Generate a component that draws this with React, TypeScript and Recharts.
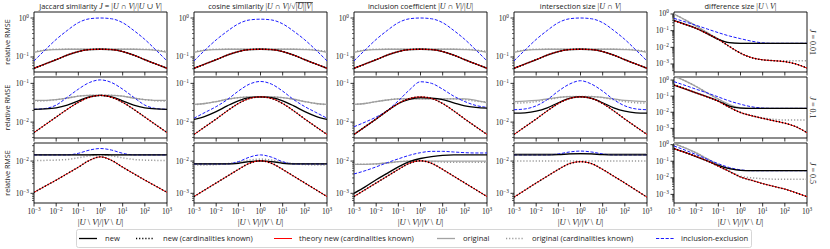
import React from "react";
import { LineChart, Line, XAxis, YAxis, ReferenceArea } from "recharts";

// x positions (|U\V| / |V\U|), half-decade steps
const ratios = [0.001, 0.00316, 0.01, 0.0316, 0.1, 0.316, 1, 3.16, 10, 31.6, 100, 316, 1000];
const xTicks = [0.001, 0.01, 0.1, 1, 10, 100, 1000];

const titles = ["jaccard", "cosine", "inclusion", "intersection", "difference"];
const rowJ = ["0.01", "0.1", "0.5"];

// ---- J = 0.01 ----
const jacA_new = [0.0513, 0.0661, 0.0851, 0.112, 0.138, 0.155, 0.158, 0.155, 0.138, 0.112, 0.0851, 0.0661, 0.0513];
const jacA_theory = [0.0513, 0.0661, 0.0851, 0.112, 0.138, 0.155, 0.158, 0.155, 0.138, 0.112, 0.0851, 0.0661, 0.0513];
const jacA_orig = [0.132, 0.148, 0.155, 0.158, 0.158, 0.158, 0.158, 0.158, 0.158, 0.158, 0.155, 0.148, 0.132];
const jacA_origKnown = [0.138, 0.151, 0.158, 0.158, 0.158, 0.158, 0.158, 0.158, 0.158, 0.158, 0.158, 0.151, 0.138];
const jacA_incExc = [0.0794, 0.151, 0.282, 0.479, 0.759, 0.955, 1.0, 0.955, 0.759, 0.479, 0.282, 0.151, 0.0794];

const cosA_new = [0.0513, 0.0661, 0.0851, 0.112, 0.138, 0.155, 0.158, 0.155, 0.138, 0.112, 0.0851, 0.0661, 0.0513];
const cosA_theory = [0.0513, 0.0661, 0.0851, 0.112, 0.138, 0.155, 0.158, 0.155, 0.138, 0.112, 0.0851, 0.0661, 0.0513];
const cosA_orig = [0.132, 0.148, 0.155, 0.158, 0.158, 0.158, 0.158, 0.158, 0.158, 0.158, 0.155, 0.148, 0.132];
const cosA_origKnown = [0.138, 0.151, 0.158, 0.158, 0.158, 0.158, 0.158, 0.158, 0.158, 0.158, 0.158, 0.151, 0.138];
const cosA_incExc = [0.0794, 0.151, 0.275, 0.457, 0.708, 0.891, 0.933, 0.891, 0.708, 0.457, 0.275, 0.151, 0.0794];

const incA_new = [0.0513, 0.0661, 0.0851, 0.112, 0.138, 0.155, 0.158, 0.155, 0.138, 0.112, 0.0851, 0.0661, 0.0513];
const incA_theory = [0.0513, 0.0661, 0.0851, 0.112, 0.138, 0.155, 0.158, 0.155, 0.138, 0.112, 0.0851, 0.0661, 0.0513];
const incA_orig = [0.132, 0.148, 0.155, 0.158, 0.158, 0.158, 0.158, 0.158, 0.158, 0.158, 0.155, 0.148, 0.132];
const incA_origKnown = [0.138, 0.151, 0.158, 0.158, 0.158, 0.158, 0.158, 0.158, 0.158, 0.158, 0.158, 0.151, 0.138];
const incA_incExc = [0.0794, 0.151, 0.282, 0.479, 0.759, 0.955, 1.0, 0.955, 0.759, 0.479, 0.282, 0.151, 0.0794];

const intA_new = [0.0513, 0.0661, 0.0851, 0.112, 0.138, 0.155, 0.158, 0.155, 0.138, 0.112, 0.0851, 0.0661, 0.0513];
const intA_theory = [0.0513, 0.0661, 0.0851, 0.112, 0.138, 0.155, 0.158, 0.155, 0.138, 0.112, 0.0851, 0.0661, 0.0513];
const intA_orig = [0.132, 0.148, 0.155, 0.158, 0.158, 0.158, 0.158, 0.158, 0.158, 0.158, 0.155, 0.148, 0.132];
const intA_origKnown = [0.138, 0.151, 0.158, 0.158, 0.158, 0.158, 0.158, 0.158, 0.158, 0.158, 0.158, 0.151, 0.138];
const intA_incExc = [0.0794, 0.151, 0.282, 0.479, 0.759, 0.955, 1.0, 0.955, 0.759, 0.479, 0.282, 0.151, 0.0794];

const difA_new = [0.398, 0.24, 0.138, 0.0661, 0.0302, 0.0191, 0.0174, 0.0174, 0.0174, 0.0174, 0.0174, 0.0174, 0.0174];
const difA_theory = [0.398, 0.24, 0.138, 0.0661, 0.0302, 0.0112, 0.00447, 0.0024, 0.00178, 0.00158, 0.00138, 0.001, 0.000562];
const difA_orig = [1.0, 0.447, 0.191, 0.0759, 0.0316, 0.0191, 0.0174, 0.0174, 0.0174, 0.0174, 0.0174, 0.0174, 0.0174];
const difA_origKnown = [1.0, 0.447, 0.191, 0.0759, 0.0302, 0.0112, 0.00447, 0.0024, 0.00178, 0.00158, 0.00155, 0.00155, 0.00155];
const difA_incExc = [0.55, 0.339, 0.209, 0.126, 0.0759, 0.0479, 0.0331, 0.0234, 0.0186, 0.0174, 0.0174, 0.0174, 0.0174];

// ---- J = 0.1 ----
const jacB_new = [0.0214, 0.0219, 0.0234, 0.0275, 0.0355, 0.0447, 0.049, 0.0447, 0.0355, 0.0275, 0.0234, 0.0219, 0.0214];
const jacB_theory = [0.00537, 0.00851, 0.0135, 0.0214, 0.0324, 0.0437, 0.049, 0.0437, 0.0324, 0.0214, 0.0135, 0.00851, 0.00537];
const jacB_orig = [0.0363, 0.0363, 0.038, 0.0417, 0.0468, 0.049, 0.049, 0.049, 0.0468, 0.0417, 0.038, 0.0363, 0.0363];
const jacB_origKnown = [0.0347, 0.0355, 0.038, 0.0417, 0.0468, 0.049, 0.049, 0.049, 0.0468, 0.0417, 0.038, 0.0355, 0.0347];
const jacB_incExc = [0.0214, 0.0224, 0.0275, 0.0437, 0.0708, 0.105, 0.123, 0.105, 0.0708, 0.0437, 0.0275, 0.0224, 0.0214];

const cosB_new = [0.0117, 0.0141, 0.0186, 0.0263, 0.0355, 0.0427, 0.0447, 0.0427, 0.0355, 0.0263, 0.0186, 0.0141, 0.0117];
const cosB_theory = [0.00479, 0.00759, 0.012, 0.0195, 0.0302, 0.0407, 0.0447, 0.0407, 0.0302, 0.0195, 0.012, 0.00759, 0.00479];
const cosB_orig = [0.0288, 0.0302, 0.0339, 0.0389, 0.0427, 0.0447, 0.0447, 0.0447, 0.0427, 0.0389, 0.0339, 0.0302, 0.0288];
const cosB_origKnown = [0.0282, 0.0302, 0.0339, 0.0389, 0.0427, 0.0447, 0.0447, 0.0447, 0.0427, 0.0389, 0.0339, 0.0302, 0.0282];
const cosB_incExc = [0.0126, 0.0178, 0.0251, 0.038, 0.0631, 0.0955, 0.112, 0.0955, 0.0631, 0.038, 0.0251, 0.0178, 0.0126];

const incB_new = [0.00479, 0.00759, 0.012, 0.0195, 0.0302, 0.0389, 0.0427, 0.0417, 0.038, 0.0316, 0.0263, 0.024, 0.0229];
const incB_theory = [0.00479, 0.00759, 0.012, 0.0195, 0.0302, 0.0407, 0.0447, 0.0407, 0.0302, 0.0195, 0.012, 0.00759, 0.00479];
const incB_orig = [0.0288, 0.0302, 0.0339, 0.0372, 0.0398, 0.0398, 0.0398, 0.0398, 0.0398, 0.0398, 0.0398, 0.0363, 0.0316];
const incB_origKnown = [0.0288, 0.0302, 0.0339, 0.0372, 0.0398, 0.0398, 0.0398, 0.0398, 0.0398, 0.0398, 0.038, 0.0347, 0.0331];
const incB_incExc = [0.00759, 0.01, 0.0135, 0.02, 0.0355, 0.0676, 0.11, 0.1, 0.0708, 0.0468, 0.0339, 0.0269, 0.024];

const intB_new = [0.017, 0.0174, 0.0191, 0.0234, 0.0316, 0.0407, 0.0457, 0.0407, 0.0316, 0.0234, 0.0191, 0.0174, 0.017];
const intB_theory = [0.00479, 0.00759, 0.012, 0.0195, 0.0302, 0.0407, 0.0447, 0.0407, 0.0302, 0.0195, 0.012, 0.00759, 0.00479];
const intB_orig = [0.0339, 0.0347, 0.0363, 0.0398, 0.0437, 0.0457, 0.0457, 0.0457, 0.0437, 0.0398, 0.0363, 0.0347, 0.0339];
const intB_origKnown = [0.0309, 0.0316, 0.0339, 0.038, 0.0427, 0.0457, 0.0457, 0.0457, 0.0427, 0.038, 0.0339, 0.0316, 0.0309];
const intB_incExc = [0.0209, 0.0219, 0.0263, 0.038, 0.0631, 0.0955, 0.117, 0.0955, 0.0631, 0.038, 0.0263, 0.0219, 0.0209];

const difB_new = [0.49, 0.282, 0.158, 0.0912, 0.0501, 0.024, 0.0182, 0.0174, 0.0174, 0.0174, 0.0174, 0.0174, 0.0174];
const difB_theory = [0.49, 0.282, 0.158, 0.0912, 0.0479, 0.02, 0.00955, 0.00603, 0.00417, 0.00295, 0.00209, 0.00126, 0.000537];
const difB_orig = [1.78, 0.891, 0.398, 0.158, 0.0661, 0.0302, 0.0191, 0.0174, 0.0174, 0.0174, 0.0174, 0.0174, 0.0174];
const difB_origKnown = [1.78, 0.891, 0.398, 0.158, 0.0631, 0.0224, 0.01, 0.00631, 0.00447, 0.00363, 0.00331, 0.00331, 0.00331];
const difB_incExc = [0.794, 0.468, 0.269, 0.158, 0.0891, 0.0501, 0.0316, 0.0219, 0.0182, 0.0174, 0.0174, 0.0174, 0.0174];

// ---- J = 0.5 ----
const jacC_new = [0.0155, 0.0155, 0.0155, 0.0155, 0.0155, 0.0156, 0.0158, 0.0156, 0.0155, 0.0155, 0.0155, 0.0155, 0.0155];
const jacC_theory = [0.00107, 0.00166, 0.00257, 0.00407, 0.00646, 0.0105, 0.0135, 0.0105, 0.00646, 0.00407, 0.00257, 0.00166, 0.00107];
const jacC_orig = [0.0155, 0.0155, 0.0155, 0.0155, 0.0155, 0.0156, 0.0158, 0.0156, 0.0155, 0.0155, 0.0155, 0.0155, 0.0155];
const jacC_origKnown = [0.0105, 0.0105, 0.0107, 0.0112, 0.0126, 0.0145, 0.0155, 0.0145, 0.0126, 0.0112, 0.0107, 0.0105, 0.0105];
const jacC_incExc = [0.0155, 0.0155, 0.0155, 0.0155, 0.0174, 0.0219, 0.0245, 0.0219, 0.0174, 0.0155, 0.0155, 0.0155, 0.0155];

const cosC_new = [0.00813, 0.00813, 0.00813, 0.00813, 0.00851, 0.00955, 0.0102, 0.00955, 0.00851, 0.00813, 0.00813, 0.00813, 0.00813];
const cosC_theory = [0.000794, 0.00129, 0.00209, 0.00339, 0.0055, 0.00851, 0.0102, 0.00851, 0.0055, 0.00339, 0.00209, 0.00129, 0.000794];
const cosC_orig = [0.00813, 0.00813, 0.00813, 0.00813, 0.00891, 0.00977, 0.01, 0.00977, 0.00891, 0.00813, 0.00813, 0.00813, 0.00813];
const cosC_origKnown = [0.00759, 0.00759, 0.00776, 0.00832, 0.00933, 0.0107, 0.0115, 0.0107, 0.00933, 0.00832, 0.00776, 0.00759, 0.00759];
const cosC_incExc = [0.00813, 0.00813, 0.00813, 0.00813, 0.00955, 0.0132, 0.0155, 0.0132, 0.00955, 0.00813, 0.00813, 0.00813, 0.00813];

const incC_new = [0.001, 0.00158, 0.00263, 0.00417, 0.00661, 0.00955, 0.012, 0.0138, 0.0151, 0.0155, 0.0155, 0.0155, 0.0155];
const incC_theory = [0.000794, 0.00129, 0.00209, 0.00339, 0.0055, 0.00851, 0.0102, 0.00851, 0.0055, 0.00339, 0.00209, 0.00129, 0.000794];
const incC_orig = [0.00794, 0.00794, 0.00813, 0.00871, 0.00955, 0.01, 0.01, 0.01, 0.01, 0.01, 0.01, 0.01, 0.01];
const incC_origKnown = [0.00794, 0.00794, 0.00813, 0.00871, 0.00955, 0.01, 0.01, 0.00977, 0.00933, 0.00912, 0.00912, 0.00912, 0.00912];
const incC_incExc = [0.00398, 0.00501, 0.00661, 0.00891, 0.0117, 0.0151, 0.0182, 0.02, 0.02, 0.0191, 0.0182, 0.0178, 0.0178];

const intC_new = [0.0155, 0.0155, 0.0155, 0.0155, 0.0158, 0.0166, 0.017, 0.0166, 0.0158, 0.0155, 0.0155, 0.0155, 0.0155];
const intC_theory = [0.000759, 0.00126, 0.00209, 0.00339, 0.0055, 0.00832, 0.00955, 0.00832, 0.0055, 0.00339, 0.00209, 0.00126, 0.000759];
const intC_orig = [0.0166, 0.0166, 0.0166, 0.0166, 0.0166, 0.0166, 0.0166, 0.0166, 0.0166, 0.0166, 0.0166, 0.0166, 0.0166];
const intC_origKnown = [0.01, 0.01, 0.01, 0.01, 0.01, 0.01, 0.01, 0.01, 0.01, 0.01, 0.01, 0.01, 0.01];
const intC_incExc = [0.0155, 0.0155, 0.0155, 0.0155, 0.0166, 0.0191, 0.0204, 0.0191, 0.0166, 0.0155, 0.0155, 0.0155, 0.0155];

const difC_new = [0.575, 0.339, 0.191, 0.105, 0.0562, 0.0355, 0.0282, 0.0269, 0.0269, 0.0269, 0.0269, 0.0269, 0.0269];
const difC_theory = [0.575, 0.339, 0.191, 0.105, 0.0501, 0.024, 0.0112, 0.00708, 0.00447, 0.00302, 0.00209, 0.00126, 0.000724];
const difC_orig = [1.15, 0.631, 0.316, 0.141, 0.0631, 0.0355, 0.0282, 0.0269, 0.0269, 0.0269, 0.0269, 0.0269, 0.0269];
const difC_origKnown = [1.15, 0.631, 0.316, 0.141, 0.0562, 0.0251, 0.0126, 0.01, 0.00891, 0.00832, 0.00832, 0.00832, 0.00832];
const difC_incExc = [0.832, 0.468, 0.251, 0.132, 0.0708, 0.0417, 0.0302, 0.0269, 0.0269, 0.0269, 0.0269, 0.0269, 0.0269];

// y axis ranges per row (similarity panels / difference panel)
const yRanges = [
  { sim: [0.0412, 1.426], dif: [0.000331, 1.318] },
  { sim: [0.00389, 0.146], dif: [0.000251, 1.549] },
  { sim: [0.000501, 0.0363], dif: [0.000302, 1.259] },
];
const yMajors = [
  { sim: [0.1, 1], dif: [0.001, 0.01, 0.1, 1] },
  { sim: [0.01, 0.1], dif: [0.001, 0.01, 0.1, 1] },
  { sim: [0.001, 0.01], dif: [0.001, 0.01, 0.1, 1] },
];

const grid = [
  [
    [jacA_new, jacA_theory, jacA_orig, jacA_origKnown, jacA_incExc],
    [cosA_new, cosA_theory, cosA_orig, cosA_origKnown, cosA_incExc],
    [incA_new, incA_theory, incA_orig, incA_origKnown, incA_incExc],
    [intA_new, intA_theory, intA_orig, intA_origKnown, intA_incExc],
    [difA_new, difA_theory, difA_orig, difA_origKnown, difA_incExc],
  ],
  [
    [jacB_new, jacB_theory, jacB_orig, jacB_origKnown, jacB_incExc],
    [cosB_new, cosB_theory, cosB_orig, cosB_origKnown, cosB_incExc],
    [incB_new, incB_theory, incB_orig, incB_origKnown, incB_incExc],
    [intB_new, intB_theory, intB_orig, intB_origKnown, intB_incExc],
    [difB_new, difB_theory, difB_orig, difB_origKnown, difB_incExc],
  ],
  [
    [jacC_new, jacC_theory, jacC_orig, jacC_origKnown, jacC_incExc],
    [cosC_new, cosC_theory, cosC_orig, cosC_origKnown, cosC_incExc],
    [incC_new, incC_theory, incC_orig, incC_origKnown, incC_incExc],
    [intC_new, intC_theory, intC_orig, intC_origKnown, intC_incExc],
    [difC_new, difC_theory, difC_orig, difC_origKnown, difC_incExc],
  ],
];

const SANS = "'Open Sans', 'DejaVu Sans', sans-serif";
const SERIF = "'Liberation Serif', 'DejaVu Serif', serif";

const colLeft = [34, 194, 354, 514, 674];
const rowTop = [12, 77, 143];
const rowH = [60, 61, 60];
const plotW = 133;
const padL = 30;
const padT = 7;
const padR = 10;

const DOT = "1.2 1.9";

function buildRows(set: number[][]) {
  const [nw, th, og, ok, ie] = set;
  return ratios.map((x, i) => ({
    x,
    newEst: nw[i],
    newKnown: th[i],
    theory: th[i],
    orig: og[i],
    origKnown: ok[i],
    incExc: ie[i],
  }));
}

function minorTicks(domain: number[]) {
  const out: number[] = [];
  for (let d = -5; d <= 1; d++) {
    for (let m = 2; m <= 9; m++) {
      const v = m * Math.pow(10, d);
      if (v > domain[0] && v < domain[1]) out.push(v);
    }
  }
  return out;
}

function isMajor(v: number) {
  const l = Math.log10(v);
  return Math.abs(l - Math.round(l)) < 1e-6;
}

function expLabel(v: number) {
  return String(Math.round(Math.log10(v))).replace("-", "\u2212");
}

function YTick(props: any) {
  const { x, y, payload } = props;
  const v = payload.value;
  if (!isMajor(v)) {
    return <line x1={x} x2={x - 2} y1={y} y2={y} stroke="#000" strokeWidth={0.6} />;
  }
  return (
    <g>
      <line x1={x} x2={x - 3.5} y1={y} y2={y} stroke="#000" strokeWidth={0.8} />
      <text x={x - 5} y={y + 2.5} textAnchor="end" fontFamily={SERIF} fontSize={7.5} fill="#222">
        10<tspan dy={-3} fontSize={5.3}>{expLabel(v)}</tspan>
      </text>
    </g>
  );
}

function XTick(props: any) {
  const { x, y, payload, showLabel } = props;
  return (
    <g>
      <line x1={x} x2={x} y1={y} y2={y + 3.5} stroke="#000" strokeWidth={0.8} />
      {showLabel && (
        <text x={x} y={y + 11} textAnchor="middle" fontFamily={SERIF} fontSize={7.5} fill="#222">
          10<tspan dy={-3} fontSize={5.3}>{expLabel(payload.value)}</tspan>
        </text>
      )}
    </g>
  );
}

function Panel({ row, col }: { row: number; col: number }) {
  const data = buildRows(grid[row][col]);
  const isDif = col === 4;
  const domain = isDif ? yRanges[row].dif : yRanges[row].sim;
  const majors = isDif ? yMajors[row].dif : yMajors[row].sim;
  const ticks = [...majors, ...minorTicks(domain)];
  const h = rowH[row];
  return (
    <div style={{ position: "absolute", left: colLeft[col] - padL, top: rowTop[row] - padT }}>
      <LineChart
        width={padL + plotW + padR}
        height={padT + h + 14}
        data={data}
        margin={{ top: padT, right: padR, left: 0, bottom: 0 }}
      >
        <XAxis
          dataKey="x"
          type="number"
          scale="log"
          domain={[0.001, 1000]}
          ticks={xTicks}
          interval={0}
          allowDataOverflow
          axisLine={false}
          tickLine={false}
          tickSize={0}
          tickMargin={0}
          height={14}
          tick={(p: any) => <XTick {...p} showLabel={row === 2} />}
        />
        <YAxis
          type="number"
          scale="log"
          domain={domain}
          ticks={ticks}
          interval={0}
          allowDataOverflow
          width={padL}
          axisLine={false}
          tickLine={false}
          tickSize={0}
          tickMargin={0}
          tick={(p: any) => <YTick {...p} />}
        />
        <Line dataKey="orig" stroke="#a3a3a3" strokeWidth={1.3} dot={false} type="monotone" isAnimationActive={false} />
        <Line dataKey="origKnown" stroke="#9a9a9a" strokeWidth={1.5} strokeDasharray={DOT} dot={false} type="monotone" isAnimationActive={false} />
        <Line dataKey="incExc" stroke="#1a1aff" strokeWidth={1} strokeDasharray="3.2 1.6" dot={false} type="monotone" isAnimationActive={false} />
        <Line dataKey="newEst" stroke="#000" strokeWidth={1.3} dot={false} type="monotone" isAnimationActive={false} />
        <Line dataKey="theory" stroke="#ff0000" strokeWidth={1} dot={false} type="monotone" isAnimationActive={false} />
        <Line dataKey="newKnown" stroke="#000" strokeWidth={1.5} strokeDasharray={DOT} dot={false} type="monotone" isAnimationActive={false} />
        <ReferenceArea x1={0.001} x2={1000} y1={domain[0]} y2={domain[1]} fill="none" fillOpacity={0} stroke="#000" strokeWidth={0.9} ifOverflow="visible" />
      </LineChart>
    </div>
  );
}

function MathText({ s, size }: { s: string; size?: number }) {
  return (
    <>
      {s.split("").map((c, i) =>
        /[A-Za-z]/.test(c) ? (
          <tspan key={i} fontFamily={SERIF} fontStyle="italic" fontSize={size}>{c}</tspan>
        ) : (
          <tspan key={i} fontFamily={SERIF} fontSize={size}>{c}</tspan>
        )
      )}
    </>
  );
}

const MS = 8;

function Title({ kind }: { kind: string }) {
  if (kind === "jaccard")
    return (<><tspan>Jaccard similarity </tspan><MathText size={MS} s="J = |U ∩ V|/|U ∪ V|" /></>);
  if (kind === "cosine")
    return (
      <>
        <tspan>cosine similarity </tspan>
        <MathText size={MS} s="|U ∩ V|/√" />
        <tspan textDecoration="overline" style={{ textDecoration: "overline" }}><MathText size={MS} s="|U||V|" /></tspan>
      </>
    );
  if (kind === "inclusion")
    return (<><tspan>inclusion coefficient </tspan><MathText size={MS} s="|U ∩ V|/|U|" /></>);
  if (kind === "intersection")
    return (<><tspan>intersection size </tspan><MathText size={MS} s="|U ∩ V|" /></>);
  return (<><tspan>difference size </tspan><MathText size={MS} s="|U \ V|" /></>);
}

const legendItems = [
  { label: "new", color: "#000", dash: undefined, width: 1.3, x: 79, tx: 105 },
  { label: "new (cardinalities known)", color: "#000", dash: DOT, width: 1.5, x: 136, tx: 163 },
  { label: "theory new (cardinalities known)", color: "#ff0000", dash: undefined, width: 1, x: 274, tx: 299 },
  { label: "original", color: "#a3a3a3", dash: undefined, width: 1.3, x: 437, tx: 463 },
  { label: "original (cardinalities known)", color: "#9a9a9a", dash: DOT, width: 1.5, x: 506, tx: 532 },
  { label: "inclusion-exclusion", color: "#1a1aff", dash: "3.2 1.6", width: 1, x: 656, tx: 681 },
];

function Overlay() {
  return (
    <svg width={830} height={249} style={{ position: "absolute", left: 0, top: 0, pointerEvents: "none" }}>
      {titles.map((t, c) => (
        <text key={t} x={colLeft[c] + plotW / 2} y={9} textAnchor="middle" fontFamily={SANS} fontSize={7.4} fill="#222">
          <Title kind={t} />
        </text>
      ))}
      {rowTop.map((top, r) => (
        <g key={r}>
          <text
            transform={`translate(9.5, ${top + rowH[r] / 2}) rotate(-90)`}
            textAnchor="middle"
            fontFamily={SANS}
            fontSize={7.2}
            fill="#222"
          >
            relative RMSE
          </text>
          <text
            transform={`translate(810, ${top + rowH[r] / 2}) rotate(90)`}
            textAnchor="middle"
            fill="#222"
          >
            <MathText size={8} s={`J = ${rowJ[r]}`} />
          </text>
        </g>
      ))}
      {colLeft.map((l, c) => (
        <text key={c} x={l + plotW / 2} y={225} textAnchor="middle" fill="#222">
          <MathText size={8.6} s="|U \ V|/|V \ U|" />
        </text>
      ))}
      <rect x={76.5} y={229.5} width={675} height={18} rx={2} fill="#fff" stroke="#cccccc" strokeWidth={0.8} />
      {legendItems.map((it) => (
        <g key={it.label}>
          <line x1={it.x} x2={it.x + 18} y1={238.5} y2={238.5} stroke={it.color} strokeWidth={it.width} strokeDasharray={it.dash} />
          <text x={it.tx} y={241} fontFamily={SANS} fontSize={7.6} fill="#222">{it.label}</text>
        </g>
      ))}
    </svg>
  );
}

export default function App() {
  return (
    <div style={{ position: "absolute", left: 0, top: 0, width: 830, height: 249, background: "#fff", overflow: "hidden" }}>
      {grid.map((rowSets, r) => rowSets.map((_, c) => <Panel key={`${r}-${c}`} row={r} col={c} />))}
      <Overlay />
    </div>
  );
}
